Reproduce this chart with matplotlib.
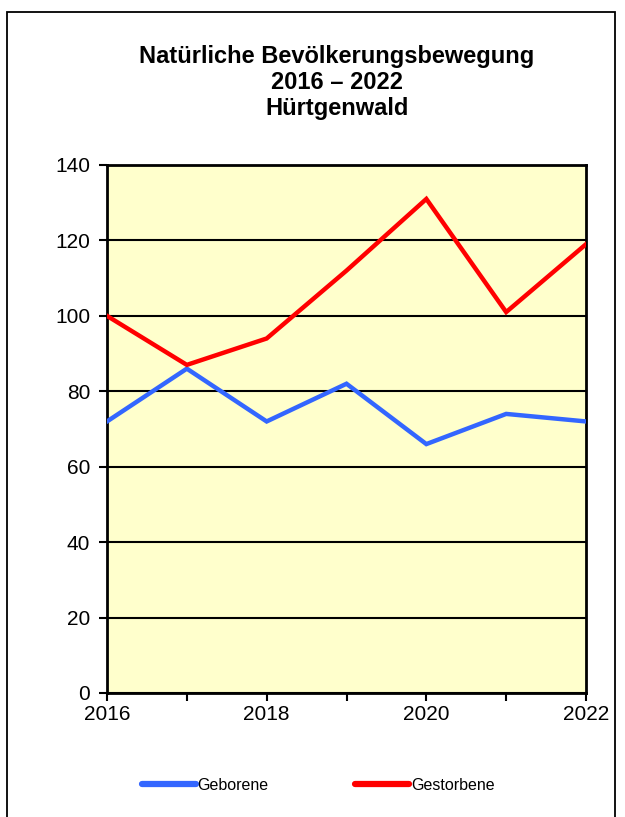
import matplotlib
matplotlib.use("Agg")
import matplotlib.pyplot as plt
from matplotlib.patches import Rectangle

years = [2016, 2017, 2018, 2019, 2020, 2021, 2022]
geborene = [72, 86, 72, 82, 66, 74, 72]
gestorbene = [100, 87, 94, 112, 131, 101, 119]
title_lines = ["Natürliche Bevölkerungsbewegung", "2016 – 2022", "Hürtgenwald"]
yticks = [0, 20, 40, 60, 80, 100, 120, 140]
xtick_labels = ["2016", "", "2018", "", "2020", "", "2022"]

plt.rcParams['font.family'] = ['Liberation Sans', 'DejaVu Sans']

W, H = 625, 817
fig = plt.figure(figsize=(W/100, H/100), dpi=100)
fig.patch.set_facecolor('white')

# outer frame
fig.patches.append(Rectangle((7/W, -0.05), (615-7)/W, (H-12)/H + 0.05,
                             transform=fig.transFigure, fill=False,
                             edgecolor='black', linewidth=1.3))

L, R, T, B = 107, 586, 165, 693
ax = fig.add_axes([L/W, (H-B)/H, (R-L)/W, (B-T)/H])
ax.set_facecolor('#FFFFCC')

ax.plot(years, geborene, color='#3366FF', linewidth=3.2, label='Geborene',
        solid_joinstyle='miter', zorder=3)
ax.plot(years, gestorbene, color='#FF0000', linewidth=3.2, label='Gestorbene',
        solid_joinstyle='miter', zorder=3)

ax.set_xlim(2016, 2022)
ax.set_ylim(0, 140)
ax.set_yticks(yticks)
ax.set_xticks(years)
ax.set_xticklabels(xtick_labels)
ax.yaxis.grid(True, color='black', linewidth=1.5)
ax.set_axisbelow(True)
for s in ax.spines.values():
    s.set_linewidth(2)
    s.set_color('black')
ax.tick_params(axis='both', direction='out', length=6, width=1.5,
               labelsize=15, colors='black')
ax.tick_params(axis='y', pad=6)
ax.tick_params(axis='x', pad=3)
for lbl in ax.get_yticklabels():
    lbl.set_clip_on(False)

for i, t in enumerate(title_lines):
    fig.text(337/W, 1 - (57 + i*25.5)/H, t, ha='center', va='center',
             fontsize=17, fontweight='bold')

leg = fig.legend(loc='center', bbox_to_anchor=(318/W, 1 - 785/H), ncol=2,
                 frameon=False, fontsize=11.5, handlelength=3.4,
                 handletextpad=0.1, columnspacing=5.4)
for h in leg.legend_handles:
    h.set_linewidth(4.5)
    h.set_solid_capstyle('round')

fig.savefig('out.png', dpi=100)
